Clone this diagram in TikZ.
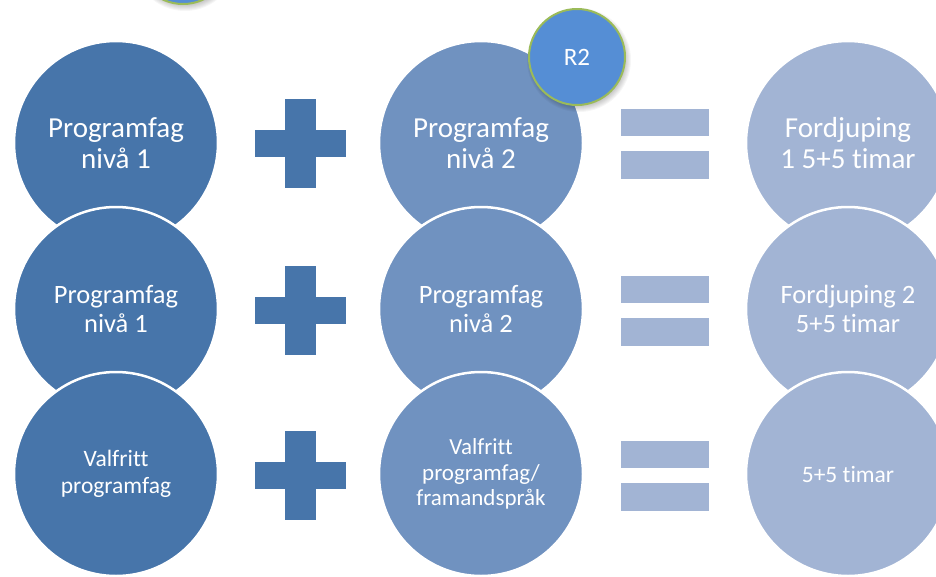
\documentclass[tikz,border=0pt]{standalone}
\usepackage{fontspec}
\setmainfont{Carlito}[Ligatures={NoCommon,NoContextual}]
\definecolor{colA}{RGB}{71,117,170}
\definecolor{colB}{RGB}{112,146,192}
\definecolor{colC}{RGB}{162,180,212}
\definecolor{rtwo}{RGB}{85,142,213}
\definecolor{rgreen}{RGB}{155,187,89}
\tikzset{
  bub/.style={circle, minimum size=204pt, inner sep=0pt, draw=white, line width=2.5pt, text=white, align=center},
  fA/.style={font=\fontsize{29}{31}\selectfont},
  fB/.style={font=\fontsize{26.5}{29}\selectfont},
  fC/.style={font=\fontsize{23.5}{27}\selectfont},
  fD/.style={font=\fontsize{23}{25.5}\selectfont},
  tag/.style={circle, minimum size=96pt, inner sep=0pt, fill=rtwo, draw=rgreen, line width=2pt, text=white, font=\fontsize{25}{28}\selectfont},
  plussign/.pic={\path[fill=colA, draw=white, line width=0.8pt] (-16,-45) -- (16,-45) -- (16,-14) -- (46,-14) -- (46,14) -- (16,14) -- (16,45) -- (-16,45) -- (-16,14) -- (-46,14) -- (-46,-14) -- (-16,-14) -- cycle;},
  equalsign/.pic={\path[fill=colC, draw=white, line width=0.8pt] (-44.5,-35) rectangle (44.5,-7) (-44.5,7) rectangle (44.5,36);},
}
\newcommand{\softshadow}[3]{%
  \foreach \k in {0,1,...,7}{\fill[black, opacity=0.035] (#1+2,#2+3) circle ({#3-3+\k});}%
}
\begin{document}
\begin{tikzpicture}[x=1pt, y=-1pt]
\useasboundingbox (0,0) rectangle (936,576);
% row 1
\node[bub, fill=colA, fA] (a1) at (116,143) {Programfag\\nivå 1};
\node[bub, fill=colB, fA] (b1) at (481,143) {Programfag\\nivå 2};
\node[bub, fill=colC, fA] (c1) at (848,143) {Fordjuping\\1 5+5 timar};
\pic at (300,143) {plussign};
\pic at (664.5,143) {equalsign};
% row 2
\node[bub, fill=colA, fB] (a2) at (116,309) {Programfag\\nivå 1};
\node[bub, fill=colB, fB] (b2) at (481,309) {Programfag\\nivå 2};
\node[bub, fill=colC, fB] (c2) at (848,309) {Fordjuping 2\\5+5 timar};
\pic at (300,310) {plussign};
\pic at (664.5,310) {equalsign};
% row 3
\node[bub, fill=colA, fC] (a3) at (116,474) {Valfritt\\programfag};
\node[bub, fill=colB, fD] (b3) at (481,474) {Valfritt\\programfag/\\framandspråk};
\node[bub, fill=colC, fC] (c3) at (848,474) {5+5 timar};
\pic at (300,475) {plussign};
\pic at (664.5,475) {equalsign};
% tags
\softshadow{183}{-44}{48}
\node[tag] (t0) at (183,-44) {};
\softshadow{577}{57}{48}
\node[tag] (t1) at (577,57) {R2};
\end{tikzpicture}
\end{document}
